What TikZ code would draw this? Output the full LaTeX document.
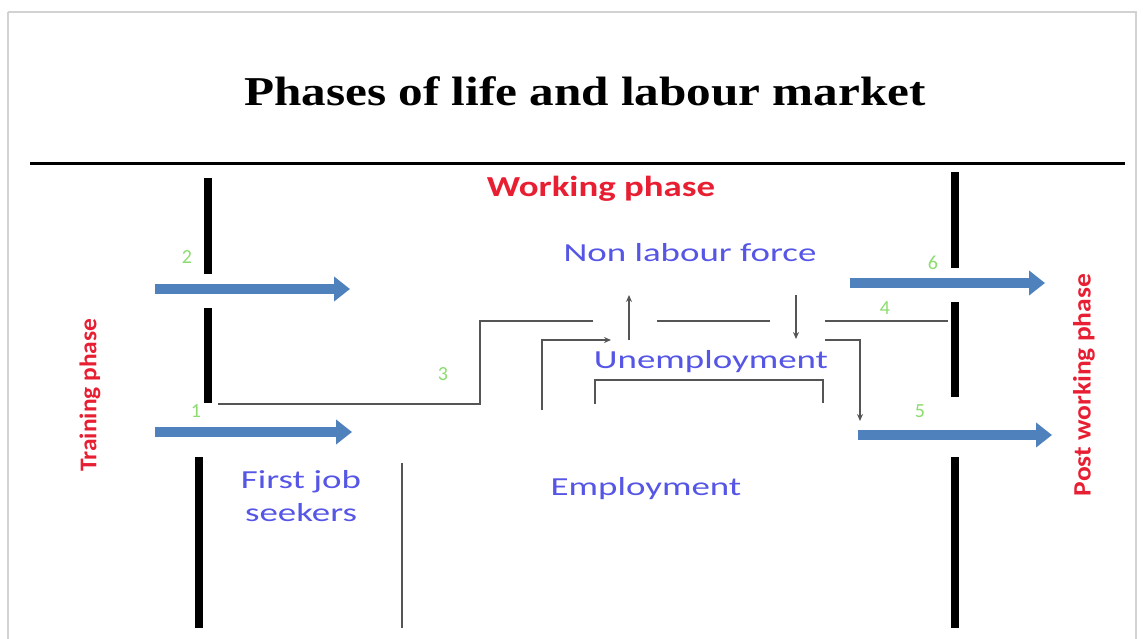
\documentclass[tikz,border=0pt]{standalone}
\usepackage{fontspec}
\usepackage{graphicx}
\setmainfont{Carlito}
\newfontfamily\titlefont{Liberation Serif}
\usetikzlibrary{arrows.meta}
\definecolor{barblue}{RGB}{79,129,189}
\definecolor{txtblue}{RGB}{85,85,230}
\definecolor{txtred}{RGB}{232,30,50}
\definecolor{numgreen}{RGB}{140,220,110}
\definecolor{conn}{RGB}{85,85,85}
\newcommand{\hstretch}[2]{\scalebox{#1}[1]{#2}}
\tikzset{
  bar/.style={line width=8pt, black},
  bigarrow/.style={line width=10pt, barblue, -{Triangle[length=16pt,width=24pt]}},
  link/.style={line width=1.6pt, conn},
  linkarrow/.style={link, -{Stealth[length=7pt,width=6pt]}},
  bluetext/.style={inner sep=0pt, text=txtblue, font=\fontsize{26}{33}\selectfont, align=center},
  redtext/.style={inner sep=0pt, text=txtred, font=\bfseries\fontsize{24}{28}\selectfont},
  num/.style={inner sep=0pt, text=numgreen, font=\fontsize{20}{22}\selectfont},
}
\begin{document}
\begin{tikzpicture}[x=1pt,y=-1pt]
\useasboundingbox (0,0) rectangle (1143,638);
\fill[white] (0,0) rectangle (1143,638);
\draw[gray!35, line width=2pt] (8,12) -- (1136,12) -- (1136,650);
\draw[gray!35, line width=2pt] (8,12) -- (8,650);
% title
\node[inner sep=0pt, font=\titlefont\bfseries\fontsize{41}{46}\selectfont] (title) at (585,91) {\hstretch{1.2}{Phases of life and labour market}};
\coordinate (hl) at (30,163);
\coordinate (hr) at (1125,163);
\draw[line width=3pt] (hl) -- (hr);
\node[redtext, font=\bfseries\fontsize{29}{34}\selectfont] (working) at (601,189) {\hstretch{1.27}{Working phase}};
% left bars
\coordinate (lb1t) at (208,178); \coordinate (lb1b) at (208,274);
\coordinate (lb2t) at (208,308); \coordinate (lb2b) at (208,403);
\coordinate (lb3t) at (199,457); \coordinate (lb3b) at (199,628);
\draw[bar] (lb1t) -- (lb1b);
\draw[bar] (lb2t) -- (lb2b);
\draw[bar] (lb3t) -- (lb3b);
% right bars
\coordinate (rb1t) at (955,172); \coordinate (rb1b) at (955,268);
\coordinate (rb2t) at (955,302); \coordinate (rb2b) at (955,397);
\coordinate (rb3t) at (955,457); \coordinate (rb3b) at (955,628);
\draw[bar] (rb1t) -- (rb1b);
\draw[bar] (rb2t) -- (rb2b);
\draw[bar] (rb3t) -- (rb3b);
% thin line first job seekers
\coordinate (fjt) at (402,463); \coordinate (fjb) at (402,628);
\draw[link] (fjt) -- (fjb);
% blue arrows
\coordinate (a2s) at (155,289); \coordinate (a2e) at (350,289);
\coordinate (a1s) at (155,432); \coordinate (a1e) at (352,432);
\coordinate (a6s) at (850,283); \coordinate (a6e) at (1045,283);
\coordinate (a5s) at (858,435); \coordinate (a5e) at (1052,435);
\draw[bigarrow] (a2s) -- (a2e);
\draw[bigarrow] (a1s) -- (a1e);
\draw[bigarrow] (a6s) -- (a6e);
\draw[bigarrow] (a5s) -- (a5e);
% numbers
\node[num] (n2) at (187,257) {2};
\node[num] (n1) at (196,411) {1};
\node[num] (n3) at (443,374) {3};
\node[num] (n6) at (933,263) {6};
\node[num] (n4) at (885,308) {4};
\node[num] (n5) at (920,411) {5};
% texts
\node[bluetext] (nlf) at (690,253) {\hstretch{1.42}{Non labour force}};
\node[bluetext] (unemp) at (711,362) {\hstretch{1.42}{Unemployment}};
\node[bluetext] (emp) at (646,489) {\hstretch{1.42}{Employment}};
\node[bluetext] (fjs) at (301,496) {\hstretch{1.42}{First job}\\\hstretch{1.42}{seekers}};
\node[redtext, rotate=90] (train) at (90,395) {\hstretch{1.06}{Training phase}};
\node[redtext, font=\bfseries\fontsize{25}{29}\selectfont, rotate=90] (post) at (1084,385) {\hstretch{1.1}{Post working phase}};
% connectors
\coordinate (c3a) at (218,404);
\coordinate (c3b) at (480,404);
\coordinate (c3c) at (480,321);
\coordinate (c3d) at (593,321);
\draw[link] (c3a) -- (c3b) -- (c3c) -- (c3d);
\coordinate (mida) at (657,321); \coordinate (midb) at (770,321);
\draw[link] (mida) -- (midb);
\coordinate (c4a) at (825,321); \coordinate (c4b) at (948,321);
\draw[link] (c4a) -- (c4b);
\coordinate (upa) at (629,340); \coordinate (upb) at (629,295);
\draw[linkarrow] (upa) -- (upb);
\coordinate (dna) at (796,295); \coordinate (dnb) at (796,339);
\draw[linkarrow] (dna) -- (dnb);
\coordinate (ea) at (542,410); \coordinate (eb) at (542,340); \coordinate (ec) at (611,340);
\draw[linkarrow] (ea) -- (eb) -- (ec);
\coordinate (ba) at (595,404); \coordinate (bb) at (595,380); \coordinate (bc) at (823,380); \coordinate (bd) at (823,403);
\draw[link] (ba) -- (bb) -- (bc) -- (bd);
\coordinate (ra) at (825,340); \coordinate (rb) at (860,340); \coordinate (rc) at (860,421);
\draw[linkarrow] (ra) -- (rb) -- (rc);
\end{tikzpicture}
\end{document}
